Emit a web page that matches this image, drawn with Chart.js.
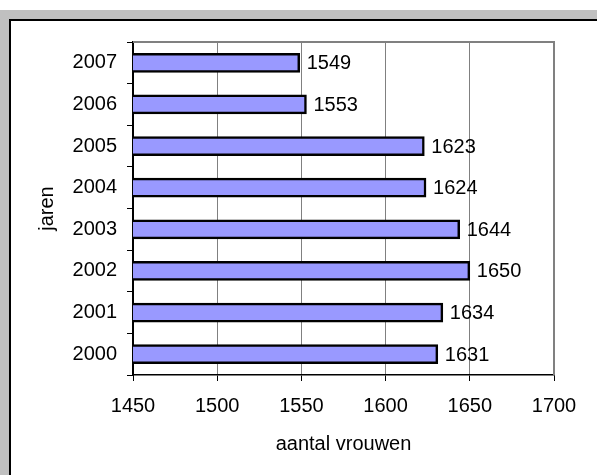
<!DOCTYPE html>
<html>
<head>
<meta charset="utf-8">
<script src="https://cdn.jsdelivr.net/npm/chart.js@4"></script>
<style>
  body { margin: 0; background: #fff; }
  #frame { position: absolute; left: 0; top: 10px; width: 597px; height: 465px; background: #c0c0c0; }
  #panel { position: absolute; left: 9px; top: 19px; right: 0; bottom: 0; background: #fff;
           border-left: 2px solid #000; border-top: 2px solid #000; }
  #wrap { position: absolute; left: 0; top: 0; width: 597px; height: 475px; }
</style>
</head>
<body>
<div id="frame"></div>
<div id="panel"></div>
<div id="wrap"><canvas id="chart"></canvas></div>
<script>
// Data
const years = ["2000", "2001", "2002", "2003", "2004", "2005", "2006", "2007"];
const women = [1631, 1634, 1650, 1644, 1624, 1623, 1553, 1549];
const xTicks = [1450, 1500, 1550, 1600, 1650, 1700];

const FONT = "'Liberation Sans', Arial, sans-serif";
const SIZE = 20;

// Value labels right of each bar
const valueLabels = {
  id: "valueLabels",
  afterDatasetsDraw(chart) {
    const ctx = chart.ctx;
    const meta = chart.getDatasetMeta(0);
    ctx.save();
    ctx.font = SIZE + "px " + FONT;
    ctx.fillStyle = "#000";
    ctx.textAlign = "left";
    ctx.textBaseline = "middle";
    meta.data.forEach((bar, i) => {
      ctx.fillText(String(women[i]), bar.x + 7, bar.y + 1);
    });
    ctx.restore();
  }
};

// Gray top and right edge of the plot area
const plotBorder = {
  id: "plotBorder",
  beforeDatasetsDraw(chart) {
    const { ctx, chartArea: a } = chart;
    ctx.save();
    ctx.strokeStyle = "#808080";
    ctx.lineWidth = 2;
    ctx.beginPath();
    ctx.moveTo(a.left, a.top);
    ctx.lineTo(a.right, a.top);
    ctx.lineTo(a.right, a.bottom);
    ctx.stroke();
    ctx.restore();
  }
};

new Chart(document.getElementById("chart"), {
  type: "bar",
  data: {
    labels: years,
    datasets: [{
      data: women,
      backgroundColor: "#9999ff",
      borderColor: "#000",
      borderWidth: 2.5,
      borderSkipped: false,
      barThickness: 19
    }]
  },
  options: {
    indexAxis: "y",
    responsive: true,
    maintainAspectRatio: false,
    animation: false,
    layout: { padding: { left: 0, top: 42, right: 43, bottom: 0 } },
    plugins: {
      legend: { display: false },
      tooltip: { enabled: false }
    },
    scales: {
      x: {
        min: 1450,
        max: 1700,
        afterBuildTicks: (scale) => { scale.ticks = xTicks.map(v => ({ value: v })); },
        afterFit: (scale) => { scale.height = 100; },
        grid: { color: "#808080", lineWidth: 1, tickColor: "#000", tickLength: 6 },
        border: { color: "#000", width: 1.5 },
        ticks: {
          color: "#000",
          font: { family: FONT, size: SIZE },
          padding: 13,
          maxRotation: 0,
          callback: (v) => String(v)
        },
        title: {
          display: true,
          text: "aantal vrouwen",
          color: "#000",
          font: { family: FONT, size: SIZE },
          padding: { top: 0, bottom: 19 }
        }
      },
      y: {
        reverse: true,
        afterFit: (scale) => { scale.width = 133; },
        grid: { drawOnChartArea: false, tickColor: "#000", tickLength: 6, offset: true },
        border: { color: "#000", width: 2 },
        ticks: { color: "#000", font: { family: FONT, size: SIZE }, padding: 10 },
        title: {
          display: true,
          text: "jaren",
          color: "#000",
          font: { family: FONT, size: SIZE },
          padding: { top: 35, bottom: 0 }
        }
      }
    }
  },
  plugins: [plotBorder, valueLabels]
});
</script>
</body>
</html>
